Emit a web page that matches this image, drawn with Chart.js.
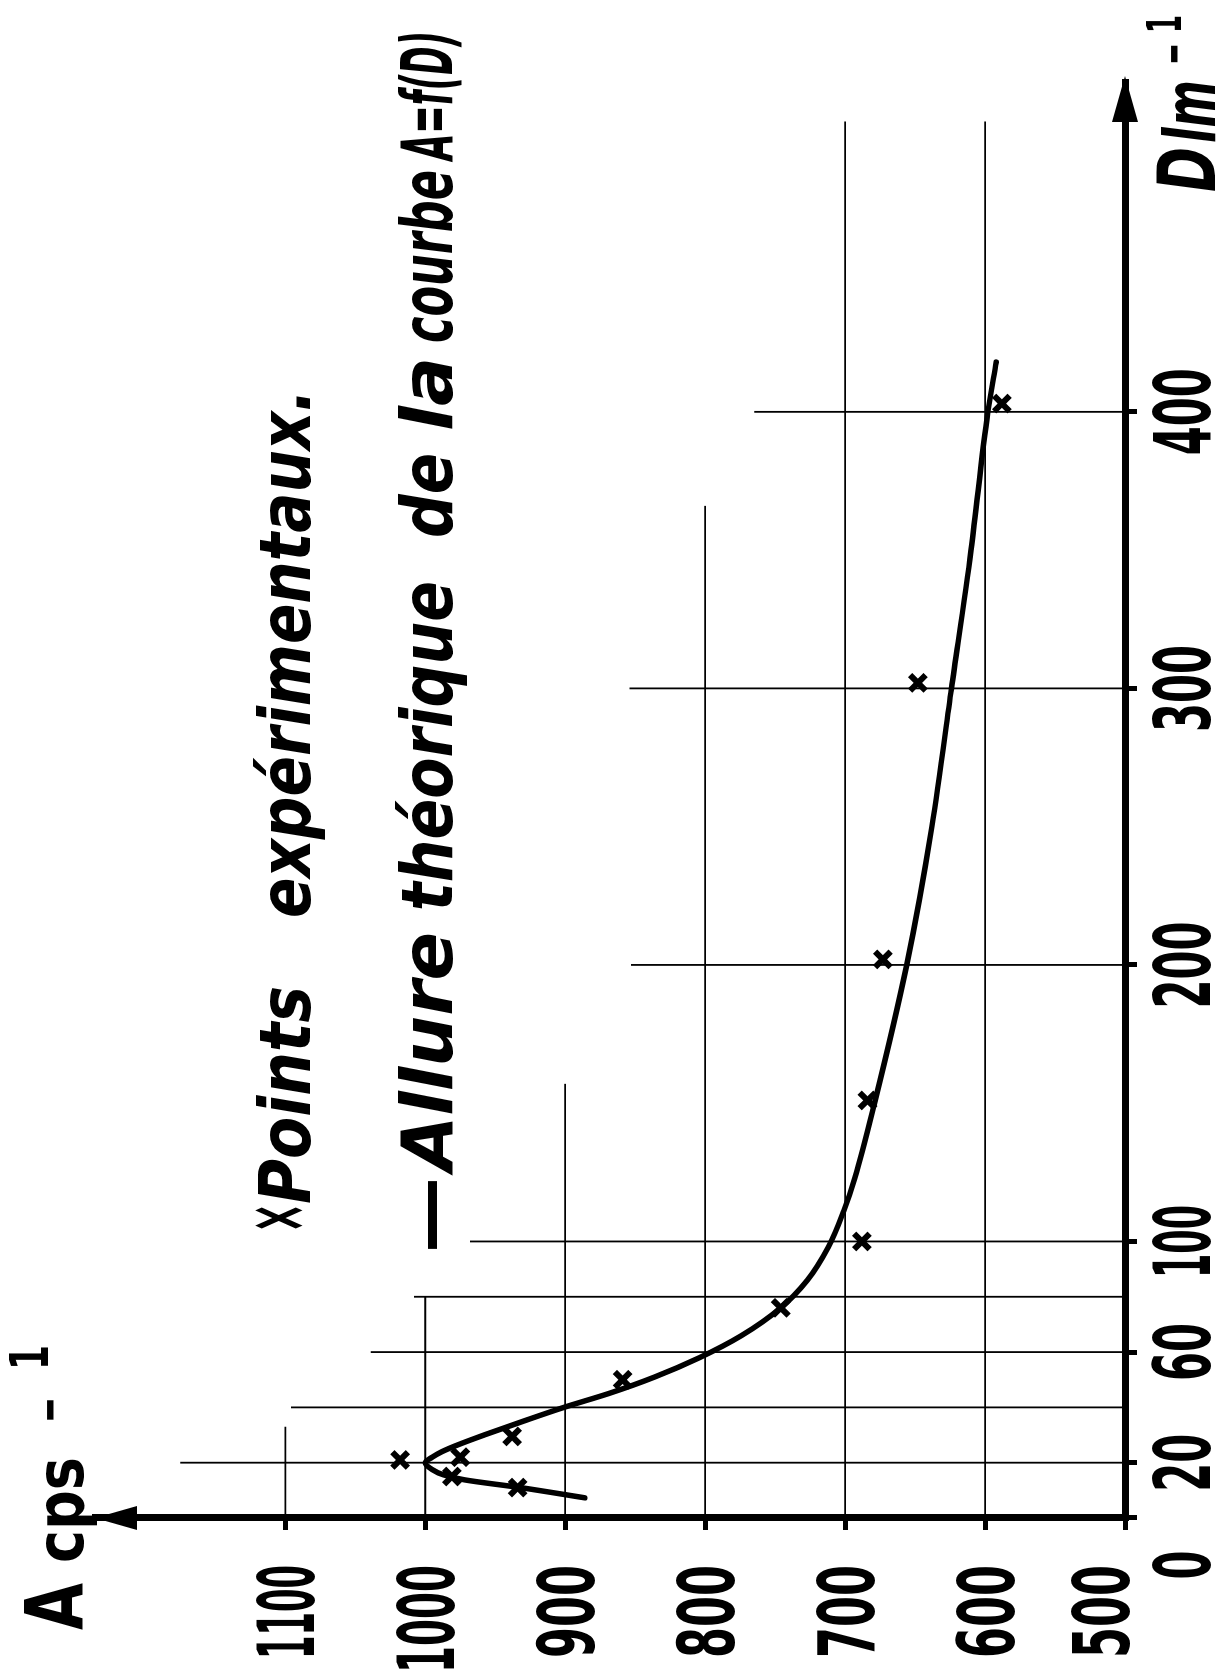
<!DOCTYPE html>
<html><head><meta charset="utf-8">
<script src="https://cdn.jsdelivr.net/npm/chart.js@4.4.0/dist/chart.umd.min.js"></script>
<style>
html,body{margin:0;padding:0;background:#fff;width:1220px;height:1671px;overflow:hidden;}
#wrap{position:absolute;left:0;top:0;width:1671px;height:1220px;transform-origin:0 0;transform:translateY(1671px) rotate(-90deg);}
canvas{display:block;}
</style></head><body>
<div id="wrap"><canvas id="c" width="1671" height="1220"></canvas></div>
<script>
// ---- data ----
const dTicks = [0, 20, 60, 100, 200, 300, 400];
const aTicks = [500, 600, 700, 800, 900, 1000, 1100];
const expD = [11, 15, 21, 22, 29.5, 50, 76, 100, 151, 202, 302, 403];
const expA = [934, 981, 1018, 975, 938, 859, 746, 688, 684, 673, 648, 588];
const curveD = [7.3, 11, 13.8, 15.6, 17.5, 20, 22, 24, 27, 30, 35, 40, 45, 51, 58, 66, 76, 86, 98, 111, 123, 150, 200, 250, 300, 350, 400, 418];
const curveA = [886, 932, 972, 987, 995, 1000, 995, 988, 974, 958, 930, 901, 869, 836, 804, 774, 746, 727, 712, 701, 693, 679, 656, 638, 624, 610, 598, 592];
const gridDValues = [20, 40, 60, 80, 100, 200, 300, 400];
const gridDReachA = [1175, 1096, 1039, 1008, 968, 853, 854, 765];
const gridAValues = [1100, 1000, 900, 800, 700, 600];
const gridAReachD = [33, 80, 157, 366, 505, 505];

const FAM = "'Liberation Sans Narrow','DejaVu Sans Condensed','DejaVu Sans',sans-serif";
const pts = (xs, ys) => xs.map((x, i) => ({x: x, y: ys[i]}));

const datasets = [
  {label: 'Points expérimentaux', data: pts(expD, expA), showLine: false,
   pointStyle: 'crossRot', pointRadius: 11, pointBorderWidth: 6,
   borderColor: '#000', backgroundColor: '#000', order: 0},
  {label: 'Allure théorique', data: pts(curveD, curveA), showLine: true,
   borderColor: '#000', borderWidth: 5.5, pointRadius: 0, cubicInterpolationMode: 'monotone',
   borderCapStyle: 'round', borderJoinStyle: 'round', order: 1}
];
gridDValues.forEach((d, i) => datasets.push({data: [{x: d, y: 500}, {x: d, y: gridDReachA[i]}],
  showLine: true, borderColor: '#000', borderWidth: 1.8, pointRadius: 0, order: 2, clip: false}));
gridAValues.forEach((a, i) => datasets.push({data: [{x: 0, y: a}, {x: gridAReachD[i], y: a}],
  showLine: true, borderColor: '#000', borderWidth: 1.8, pointRadius: 0, order: 2, clip: false}));

function fitText(ctx, txt, u0, u1, v, font) {
  ctx.font = font;
  const w = ctx.measureText(txt).width;
  ctx.save();
  ctx.translate(u0, v);
  ctx.scale((u1 - u0) / w, 1);
  ctx.fillText(txt, 0, 0);
  ctx.restore();
}
// hand-lettered digit widths: narrow "1"
const labelWidth = (s) => s.split('').reduce((t, ch) => t + (ch === '1' ? 15 : 29), 0);

const decor = {
  id: 'decor',
  beforeDraw(chart) {
    const c = chart.ctx;
    c.save(); c.fillStyle = '#fff'; c.fillRect(0, 0, chart.width, chart.height); c.restore();
  },
  afterDraw(chart) {
    const c = chart.ctx, a = chart.chartArea;
    const xs = chart.scales.x, ys = chart.scales.y;
    c.save();
    c.fillStyle = '#000';
    const BI = (s) => 'italic bold ' + s + 'px ' + FAM;
    const B = (s) => 'bold ' + s + 'px ' + FAM;
    c.textAlign = 'left'; c.textBaseline = 'alphabetic';
    // tick labels, placed from the scales' own ticks
    xs.ticks.forEach((t, i) => {
      const s = String(t.value);
      const w = labelWidth(s);
      const uc = xs.getPixelForTick(i) + (t.value === 0 ? -47 : 0);
      fitText(c, s, uc - w / 2, uc + w / 2, a.bottom + 85, B(78));
    });
    ys.ticks.forEach((t, i) => {
      const s = String(t.value);
      const w = labelWidth(s) + 6;
      const vc = ys.getPixelForTick(i) + (t.value === 500 ? -25 : 0);
      fitText(c, s, 106 - w, 106, vc + 29, B(78));
    });
    // arrow heads
    c.beginPath();
    c.moveTo(a.right + 4, a.bottom); c.lineTo(a.right - 42, a.bottom - 13); c.lineTo(a.right - 42, a.bottom + 13); c.closePath(); c.fill();
    c.beginPath();
    c.moveTo(a.left, a.top); c.lineTo(a.left - 12, a.top + 42); c.lineTo(a.left + 12, a.top + 42); c.closePath(); c.fill();
    // legend text
    fitText(c, '×', 438, 468, 304, B(80));
    fitText(c, 'Points', 467, 685, 310, BI(72));
    fitText(c, 'expérimentaux.', 753, 1282, 310, BI(72));
    fitText(c, '—', 418, 494, 452, B(72));
    fitText(c, 'Allure', 500, 739, 452, BI(72));
    fitText(c, 'théorique', 760, 1090, 452, BI(72));
    fitText(c, 'de', 1133, 1218, 452, BI(72));
    fitText(c, 'la', 1240, 1314, 452, BI(72));
    fitText(c, 'courbe', 1328, 1501, 452, BI(72));
    fitText(c, 'A=f(D)', 1511, 1640, 452, BI(72));
    // axis titles
    fitText(c, 'A', 41, 88, 83, B(80));
    fitText(c, 'cps', 108, 214, 83, B(66));
    fitText(c, '−', 248, 274, 68, B(56));
    fitText(c, '1', 301, 326, 48, B(54));
    fitText(c, 'D', 1479, 1524, 1215, BI(80));
    fitText(c, 'lm', 1528, 1591, 1215, BI(72));
    fitText(c, '−', 1606, 1628, 1192, B(56));
    fitText(c, '1', 1638, 1656, 1181, B(48));
    c.restore();
  }
};

new Chart(document.getElementById('c'), {
  type: 'scatter',
  data: {datasets: datasets},
  options: {
    responsive: false, animation: false, devicePixelRatio: 1,
    layout: {padding: {top: 95, right: 80, left: 0, bottom: 0}},
    plugins: {legend: {display: false}, tooltip: {enabled: false}},
    scales: {
      x: {
        type: 'linear', min: 0, max: 520,
        afterFit: (s) => { s.height = 95; },
        afterBuildTicks: (s) => { s.ticks = dTicks.map(v => ({value: v})); },
        border: {display: true, color: '#000', width: 7},
        grid: {display: true, drawOnChartArea: false, drawTicks: true, tickLength: 12, tickWidth: 5, tickColor: '#000'},
        ticks: {display: false, callback: (v) => String(v)}
      },
      y: {
        type: 'linear', min: 500, max: 1236,
        afterFit: (s) => { s.width = 153; },
        afterBuildTicks: (s) => { s.ticks = aTicks.map(v => ({value: v})); },
        border: {display: true, color: '#000', width: 7},
        grid: {display: true, drawOnChartArea: false, drawTicks: true, tickLength: 12, tickWidth: 5, tickColor: '#000'},
        ticks: {display: false, callback: (v) => String(v)}
      }
    }
  },
  plugins: [decor]
});
</script>
</body></html>
